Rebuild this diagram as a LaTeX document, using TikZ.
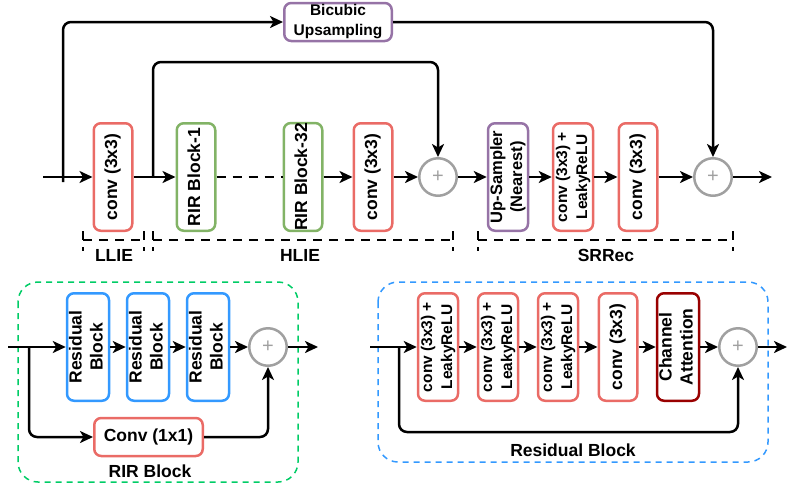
\documentclass[tikz,border=0pt]{standalone}
\usepackage{fontspec}
\setmainfont{Liberation Sans}
\usetikzlibrary{arrows.meta}

\definecolor{convred}{HTML}{EA6B66}
\definecolor{rirgreen}{HTML}{82B366}
\definecolor{uppurple}{HTML}{9673A6}
\definecolor{resblue}{HTML}{3399FF}
\definecolor{attred}{HTML}{990000}
\definecolor{sumgray}{HTML}{A0A0A0}
\definecolor{rirdash}{HTML}{00CC66}

\newcommand{\blkfont}{\fontsize{17.5}{21}\selectfont\bfseries}
\newcommand{\blksmall}{\fontsize{15.5}{20}\selectfont\bfseries}
\newcommand{\rotlabel}[1]{\rotatebox{90}{\begin{tabular}{@{}c@{}}#1\end{tabular}}}

\begin{document}
\begin{tikzpicture}[x=1pt,y=-1pt,node distance=60pt,line width=2.5pt,
    >={Stealth[length=13pt,width=12pt,inset=3.5pt]}]
  \tikzstyle{blk}=[draw,rounded corners=7pt,inner sep=0pt,minimum width=38.5pt,minimum height=107.5pt,font=\blkfont]
  \tikzstyle{redbox}=[blk,draw=convred]
  \tikzstyle{greenbox}=[blk,draw=rirgreen]
  \tikzstyle{purplebox}=[blk,draw=uppurple]
  \tikzstyle{bluebox}=[blk,draw=resblue]
  \tikzstyle{attbox}=[blk,draw=attred]
  \tikzstyle{sumnode}=[circle,draw=sumgray,text=sumgray,inner sep=0pt,minimum size=37.5pt,font=\fontsize{20}{20}\selectfont]
  \tikzstyle{brk}=[dash pattern=on 9pt off 7pt]
  \tikzstyle{lbl}=[inner sep=0pt,font=\blkfont]
  \useasboundingbox (0,0) rectangle (798,488);

  % containers
  \draw[rirdash,line width=1.5pt,dash pattern=on 6pt off 5pt,rounded corners=20pt] (18,282) rectangle (298,482);
  \draw[resblue,line width=1.5pt,dash pattern=on 6pt off 5pt,rounded corners=20pt] (378,282) rectangle (768,462);

  % top row
  \node[blk,draw=uppurple,minimum width=107.5pt,minimum height=38pt,font=\blksmall,align=center] (bic) at (338,22) {Bicubic\\Upsampling};
  \node[redbox] (c1) at (113,177) {\rotlabel{conv (3x3)}};
  \node[greenbox] (r1) at (196,177) {\rotlabel{RIR Block-1}};
  \node[greenbox] (r32) at (303,177) {\rotlabel{RIR Block-32}};
  \node[redbox, right of=r32, xshift=10pt] (c2) {\rotlabel{conv (3x3)}};
  \node[sumnode, right of=c2, xshift=5pt] (s1) {+};
  \node[purplebox, right of=s1, xshift=10pt, font=\fontsize{16.5}{20}\selectfont\bfseries] (up) {\rotlabel{Up-Sampler\\(Nearest)}};
  \node[redbox, right of=up, xshift=5pt, font=\blksmall] (cl) {\rotlabel{conv (3x3) +\\LeakyReLU}};
  \node[redbox, right of=cl, xshift=5pt] (c3) {\rotlabel{conv (3x3)}};
  \node[sumnode, right of=c3, xshift=15pt] (s2) {+};

  \coordinate (in1) at (43,177);
  \coordinate (out1) at (772,177);
  \coordinate (sk1) at (63,182);
  \coordinate (sk2) at (153,177);
  \coordinate (sk2top) at (153,62);

  % brackets
  \draw[brk] (83,231) -- (83,251);
  \draw[brk] (83,240) -- (144,240);
  \draw[brk] (144,231) -- (144,251);
  \draw[brk] (153,231) -- (153,251);
  \draw[brk] (153,240) -- (453,240);
  \draw[brk] (453,231) -- (453,251);
  \draw[brk] (478,231) -- (478,251);
  \draw[brk] (478,240) -- (733,240);
  \draw[brk] (733,231) -- (733,251);
  \node[lbl] (llie) at (114,255) {LLIE};
  \node[lbl] (hlie) at (300,255) {HLIE};
  \node[lbl] (srrec) at (606,255) {SRRec};

  % RIR block
  \node[bluebox] (rb1) at (88,347) {\rotlabel{Residual\\Block}};
  \node[bluebox, right of=rb1] (rb2) {\rotlabel{Residual\\Block}};
  \node[bluebox, right of=rb2] (rb3) {\rotlabel{Residual\\Block}};
  \node[sumnode, right of=rb3] (s3) {+};
  \node[blk,draw=convred,minimum width=108.5pt,minimum height=38pt] (cv1) at (148.5,437) {Conv (1x1)};
  \node[lbl] (rirlab) at (150,471) {RIR Block};

  \coordinate (in2) at (8,347);
  \coordinate (out2) at (318,347);
  \coordinate (br2) at (29,347);

  % residual block
  \node[redbox, font=\blksmall] (cl1) at (438,347) {\rotlabel{conv (3x3) +\\LeakyReLU}};
  \node[redbox, font=\blksmall, right of=cl1] (cl2) {\rotlabel{conv (3x3) +\\LeakyReLU}};
  \node[redbox, font=\blksmall, right of=cl2] (cl3) {\rotlabel{conv (3x3) +\\LeakyReLU}};
  \node[redbox, right of=cl3] (c4) {\rotlabel{conv (3x3)}};
  \node[attbox, right of=c4] (ca) {\rotlabel{Channel\\Attention}};
  \node[sumnode, right of=ca] (s4) {+};
  \node[lbl] (reslab) at (573,450) {Residual Block};

  \coordinate (in3) at (370,347);
  \coordinate (out3) at (787,347);
  \coordinate (br3) at (399,347);
  \coordinate (br3low) at (399,432);

  % edges
  \draw[->] (in1) -- (c1);
  \draw[->,rounded corners=8pt] (sk1) |- (bic);
  \draw[->,rounded corners=8pt] (bic) -| (s2);
  \draw[->,rounded corners=8pt] (sk2) -- (sk2top) -| (s1);
  \draw[->] (c1) -- (r1);
  \draw[brk] (r1) -- (r32);
  \draw[->] (r32) -- (c2);
  \draw[->] (c2) -- (s1);
  \draw[->] (s1) -- (up);
  \draw[->] (up) -- (cl);
  \draw[->] (cl) -- (c3);
  \draw[->] (c3) -- (s2);
  \draw[->] (s2) -- (out1);

  \draw[->] (in2) -- (rb1);
  \draw[->] (rb1) -- (rb2);
  \draw[->] (rb2) -- (rb3);
  \draw[->] (rb3) -- (s3);
  \draw[->] (s3) -- (out2);
  \draw[->,rounded corners=8pt] (br2) |- (cv1);
  \draw[->,rounded corners=8pt] (cv1) -| (s3);

  \draw[->] (in3) -- (cl1);
  \draw[->] (cl1) -- (cl2);
  \draw[->] (cl2) -- (cl3);
  \draw[->] (cl3) -- (c4);
  \draw[->] (c4) -- (ca);
  \draw[->] (ca) -- (s4);
  \draw[->] (s4) -- (out3);
  \draw[->,rounded corners=8pt] (br3) -- (br3low) -| (s4);

\end{tikzpicture}
\end{document}
